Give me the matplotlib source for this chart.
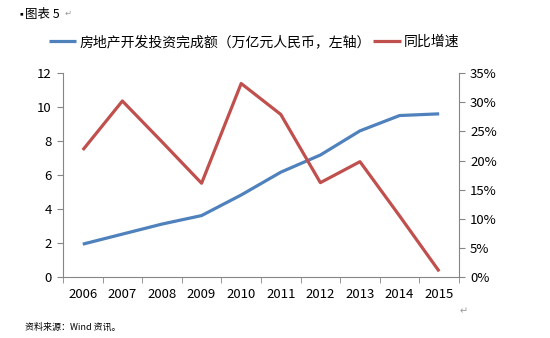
import matplotlib
matplotlib.use('Agg')
import matplotlib.pyplot as plt
import numpy as np

plt.rcParams['font.family'] = ['Noto Sans CJK SC', 'DejaVu Sans']

years = ['2006', '2007', '2008', '2009', '2010', '2011', '2012', '2013', '2014', '2015']
invest = [1.94, 2.53, 3.12, 3.62, 4.83, 6.17, 7.18, 8.60, 9.50, 9.60]
growth = [21.8, 30.2, 23.2, 16.1, 33.2, 27.9, 16.2, 19.8, 10.5, 1.0]

blue = '#4F81BD'
red = '#C0504D'
gray = '#868686'

fig = plt.figure(figsize=(5.5, 3.38), dpi=100)
ax = fig.add_axes([0.1145, 0.180, 0.72, 0.604])
ax2 = ax.twinx()

x = np.arange(len(years))
l1, = ax.plot(x, invest, color=blue, lw=2.3, solid_capstyle='butt')
l2, = ax2.plot(x, growth, color=red, lw=2.3, solid_capstyle='butt')

ax.set_xlim(-0.5, len(years) - 0.5)
ax.set_ylim(0, 12)
ax.set_yticks(range(0, 13, 2))
ax2.set_ylim(0, 35)
ax2.set_yticks(range(0, 36, 5))
ax2.set_yticklabels(['%d%%' % v for v in range(0, 36, 5)])

ax.set_xticks(x)
ax.set_xticklabels(years)
ax.set_xticks(np.arange(-0.5, len(years), 1), minor=True)
ax.tick_params(axis='x', which='major', length=0, pad=8, labelsize=9.5)
ax.tick_params(axis='x', which='minor', length=4, color=gray, direction='out')
ax.tick_params(axis='y', length=4, color=gray, labelsize=9.5, pad=4)
ax2.tick_params(axis='y', length=4, color=gray, labelsize=9.5, pad=4)

for a in (ax, ax2):
    a.spines['top'].set_visible(False)
    for s in ('left', 'right', 'bottom'):
        a.spines[s].set_color(gray)
ax.spines['right'].set_visible(False)
ax2.spines['left'].set_visible(False)
ax2.spines['bottom'].set_visible(False)

fig.legend([l1, l2], ['房地产开发投资完成额（万亿元人民币，左轴）', '同比增速'],
           loc='center', bbox_to_anchor=(0.462, 0.876), ncol=2, frameon=False,
           fontsize=10, handlelength=2.0, handletextpad=0.2, columnspacing=0.2)

fig.text(0.030, 0.958, '▪', fontsize=7, va='center', ha='left')
fig.text(0.046, 0.958, '图表 5', fontsize=9, va='center', ha='left')
fig.text(0.118, 0.962, '↵', fontsize=6, va='center', ha='left', color='#999999')
fig.text(0.045, 0.033, '资料来源：Wind 资讯。', fontsize=6.5, va='center', ha='left')
fig.text(0.835, 0.078, '↵', fontsize=7, va='center', ha='left', color='#999999')

fig.savefig('out.png', dpi=100)
